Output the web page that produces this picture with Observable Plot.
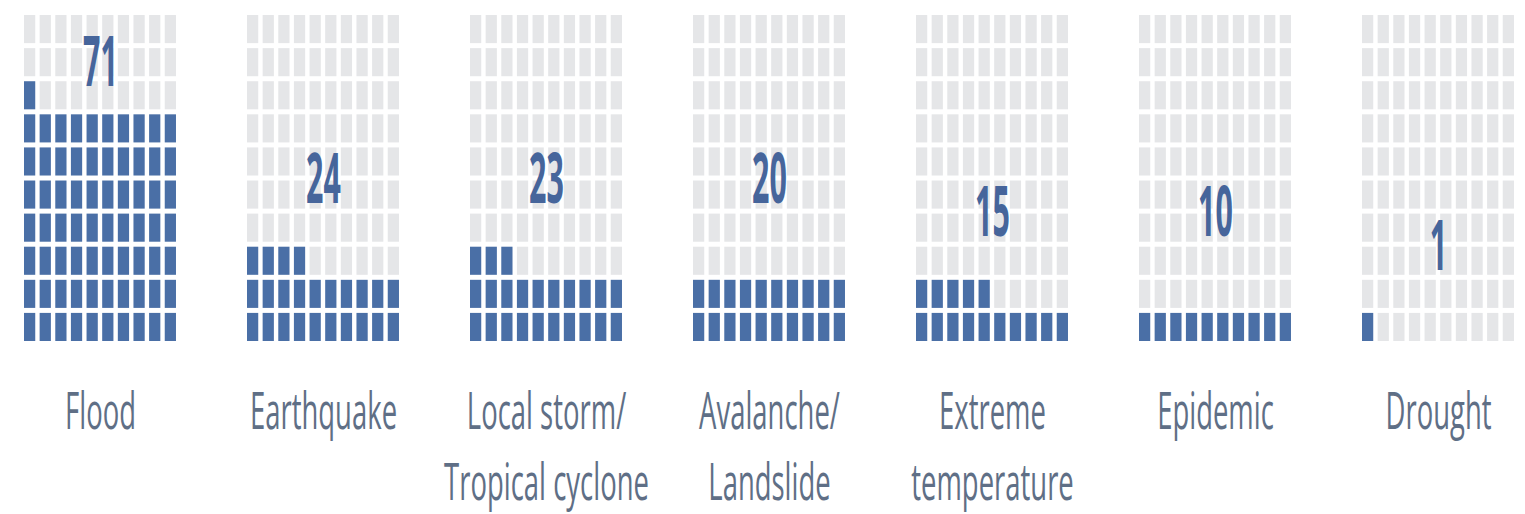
<!DOCTYPE html>
<html>
<head>
<meta charset="utf-8">
<script src="https://cdn.jsdelivr.net/npm/d3@7"></script>
<script src="https://cdn.jsdelivr.net/npm/@observablehq/plot@0.6"></script>
<style>
  html, body { margin: 0; padding: 0; background: #ffffff; }
  #chart { width: 1525px; height: 514px; overflow: hidden; }
</style>
</head>
<body>
<div id="chart"></div>
<script>
// ---- data ----
const categories = ["Flood", "Earthquake", "Local storm/\nTropical cyclone", "Avalanche/\nLandslide", "Extreme\ntemperature", "Epidemic", "Drought"];
const counts = [71, 24, 23, 20, 15, 10, 1];
const columns = 10;
const rows = 10;

// ---- build waffle cells ----
const cells = [];
categories.forEach((cat, k) => {
  for (let i = 0; i < columns * rows; i++) {
    cells.push({cat, col: i % columns, row: Math.floor(i / columns), filled: i < counts[k]});
  }
});
const numbers = categories.map((cat, k) => ({cat, value: counts[k], pos: Math.min(Math.floor(counts[k] / columns) + 2.85, 8.4)}));

const blue = "#4a6fa6";
const gray = "#e5e6e8";

const chart = Plot.plot({
  width: 1525,
  height: 514,
  marginTop: 15,
  marginBottom: 173,
  marginLeft: 22,
  marginRight: 10,
  style: {background: "#ffffff", fontFamily: "'Open Sans', sans-serif"},
  fx: {domain: categories, paddingInner: 0.32, paddingOuter: 0, axis: null, label: null},
  x: {domain: [0, 9.72], axis: null},
  y: {domain: [0, 9.85], axis: null},
  marks: [
    Plot.rect(cells, {
      fx: "cat",
      x1: "col", x2: d => d.col + 1,
      y1: "row", y2: d => d.row + 1,
      insetRight: 4.4, insetTop: 5,
      fill: d => d.filled ? blue : gray
    }),
    Plot.text(numbers, {
      fx: "cat",
      x: () => 4.86,
      y: "pos",
      text: d => String(d.value),
      fill: "#46659b",
      fontSize: 70,
      fontWeight: "bold",
      lineAnchor: "middle"
    }),
    Plot.text(categories, {
      fx: d => d,
      text: d => d,
      frameAnchor: "bottom",
      lineAnchor: "top",
      dy: 37,
      lineHeight: 1.37,
      fontSize: 52,
      fill: "#5f6f86"
    })
  ]
});

// condense the text horizontally like the reference
d3.select(chart).selectAll("text").each(function() {
  const g = this.parentNode;
  const fs = +(g.getAttribute("font-size") || this.getAttribute("font-size") || 10);
  const s = fs > 65 ? 0.435 : 0.528;
  const t = this.getAttribute("transform");
  if (t) {
    this.setAttribute("transform", t + ` scale(${s},1)`);
  } else {
    const x = +(this.getAttribute("x") || 0);
    this.setAttribute("transform", `translate(${x},0) scale(${s},1) translate(${-x},0)`);
  }
});

document.getElementById("chart").appendChild(chart);
</script>
</body>
</html>
